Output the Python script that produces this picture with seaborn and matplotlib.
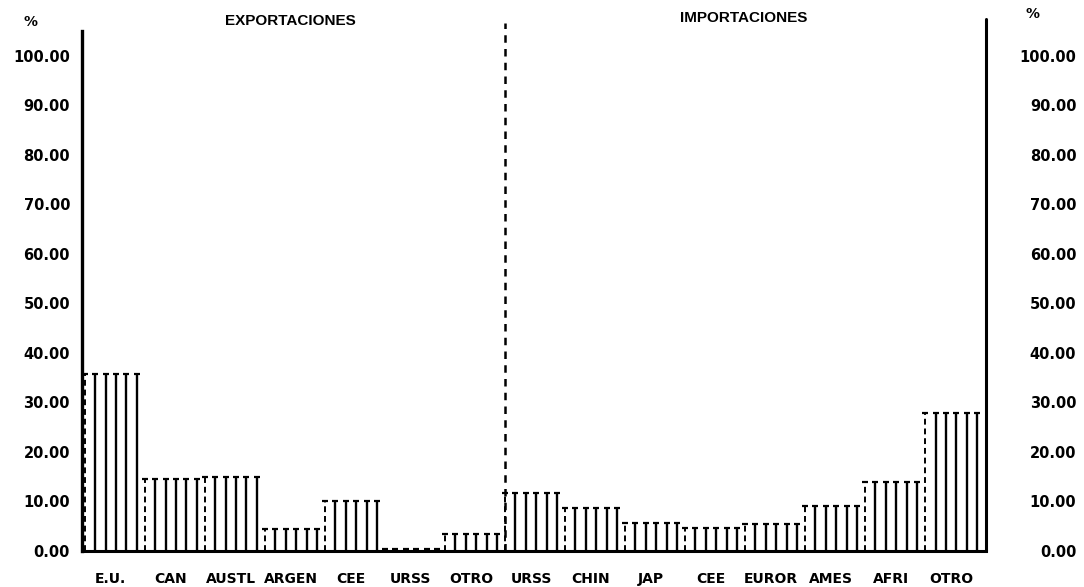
import pandas as pd
import seaborn as sns
import matplotlib.pyplot as plt

# Data (% share)
export_labels = ['E.U.', 'CAN', 'AUSTL', 'ARGEN', 'CEE', 'URSS', 'OTRO']
export_values = [35.8, 14.6, 15.0, 4.4, 10.0, 0.4, 3.5]
import_labels = ['URSS', 'CHIN', 'JAP', 'CEE', 'EUROR', 'AMES', 'AFRI', 'OTRO']
import_values = [11.8, 8.7, 5.7, 4.6, 5.4, 9.0, 14.0, 27.8]
y_ticks = [0, 10, 20, 30, 40, 50, 60, 70, 80, 90, 100]

df = pd.DataFrame({
    'pais': export_labels + import_labels,
    'valor': export_values + import_values,
    'grupo': ['EXPORTACIONES'] * len(export_labels) + ['IMPORTACIONES'] * len(import_labels),
})
df['pos'] = range(len(df))

sns.set_style('white')
plt.rcParams['font.family'] = ['DejaVu Sans']
plt.rcParams['text.color'] = 'black'
plt.rcParams['xtick.color'] = 'black'
plt.rcParams['ytick.color'] = 'black'

fig = plt.figure(figsize=(10.84, 5.87), dpi=100)
ax = fig.add_axes([0.0756, 0.0613, 0.834, 0.886])

sns.barplot(data=df, x='pos', y='valor', color='white', saturation=1,
            width=0.87, linewidth=0, ax=ax)

# plotter style bars: dashed left edge + vertical strokes with little caps
for p in ax.patches:
    x0, w, h = p.get_x(), p.get_width(), p.get_height()
    xs = [x0 + w * k / 5 for k in range(6)]
    ax.plot([xs[0], xs[0]], [0, h], color='black', lw=1.4, ls=(0, (3, 2)))
    ax.vlines(xs[1:], 0, h, color='black', lw=1.7)
    ax.plot(xs, [h] * len(xs), ls='none', marker='_', ms=5, mew=1.6, color='black')

ax.set_xlim(-0.48, 14.58)
ax.set_ylim(0, 105)
ax.set_xlabel('')
ax.set_ylabel('')
ax.set_xticks(df['pos'])
ax.set_xticklabels(df['pais'], fontsize=10, fontweight='bold')
ax.set_yticks(y_ticks)
ax.set_yticklabels(['%.2f' % v for v in y_ticks], fontsize=10.5, fontweight='bold')
ax.tick_params(axis='y', length=0, pad=8.6, labelcolor='black')
ax.tick_params(axis='x', length=0, pad=15, labelcolor='black')

for s in ['top', 'right']:
    ax.spines[s].set_visible(False)
ax.spines['left'].set_linewidth(2.4)
ax.spines['bottom'].set_linewidth(2.2)
ax.spines['left'].set_color('black')
ax.spines['bottom'].set_color('black')

# right axis line (a bit taller than the plot area)
ax.plot([1, 1], [0, 107.5], transform=ax.get_yaxis_transform(), color='black',
        lw=2.2, clip_on=False)

# dashed separator between exports and imports
sep_x = ax.patches[len(export_labels)].get_x()
ax.plot([sep_x, sep_x], [0, 106.7], color='black', lw=1.8, ls=(0, (3, 2.5)), clip_on=False)

# right hand scale
ax2 = ax.twinx()
ax2.set_ylim(ax.get_ylim())
ax2.set_yticks(y_ticks)
ax2.set_yticklabels(['%.2f' % v for v in y_ticks], fontsize=10.5, fontweight='bold')
ax2.tick_params(axis='y', length=0, pad=65, labelcolor='black')
for lbl in ax2.get_yticklabels():
    lbl.set_horizontalalignment('right')
for s in ax2.spines.values():
    s.set_visible(False)
ax2.grid(False)

fig.text(290 / 1084, 1 - 21 / 587, 'EXPORTACIONES', ha='center', va='center',
         fontsize=11, fontweight='bold', family='Liberation Sans', color='black')
fig.text(744 / 1084, 1 - 17.5 / 587, 'IMPORTACIONES', ha='center', va='center',
         fontsize=11, fontweight='bold', family='Liberation Sans', color='black')
fig.text(30 / 1084, 1 - 22 / 587, '%', ha='center', va='center', fontsize=10,
         fontweight='bold', color='black')
fig.text(1033 / 1084, 1 - 14 / 587, '%', ha='center', va='center', fontsize=10,
         fontweight='bold', color='black')

fig.savefig('out.png', dpi=100)
